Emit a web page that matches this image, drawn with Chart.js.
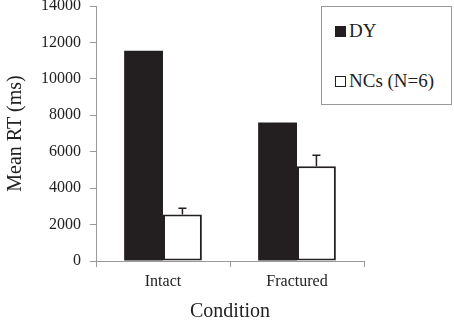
<!DOCTYPE html>
<html>
<head>
<meta charset="utf-8">
<script src="https://cdn.jsdelivr.net/npm/chart.js@4/dist/chart.umd.min.js"></script>
<style>
  body { margin: 0; background: #fff; }
  #wrap { position: relative; width: 454px; height: 322px; }
  #legenda {
    position: absolute; left: 321px; top: 6px; width: 131px; height: 99px;
    border: 1px solid #999; background: #fff; box-sizing: border-box;
    font-family: "Liberation Serif", serif; font-size: 19px; color: #222;
  }
  .item { position: absolute; left: 13px; display: flex; align-items: center; }
  .caja { width: 11px; height: 11px; margin-right: 3px; box-sizing: border-box; border: 1px solid #231f20; }
</style>
</head>
<body>
<div id="wrap">
  <canvas id="grafico" width="454" height="322"></canvas>
  <div id="legenda"></div>
</div>
<script>
const condiciones = ["Intact", "Fractured"];
const series = ["DY", "NCs (N=6)"];
const valoresDY = [11550, 7600];
const valoresNCs = [2550, 5200];
const erroresNCs = [350, 600];
const ticksY = [0, 2000, 4000, 6000, 8000, 10000, 12000, 14000];
const coloresSerie = ["#231f20", "#ffffff"];

const fuente = "'Liberation Serif', 'Times New Roman', serif";

// barras de error solo hacia arriba
const barrasError = {
    id: "barrasError",
    afterDatasetsDraw(chart) {
        const ctx = chart.ctx;
        const meta = chart.getDatasetMeta(1);
        const y = chart.scales.y;
        ctx.save();
        ctx.strokeStyle = "#231f20";
        ctx.lineWidth = 1.5;
        meta.data.forEach((bar, i) => {
            const top = y.getPixelForValue(valoresNCs[i] + erroresNCs[i]);
            ctx.beginPath();
            ctx.moveTo(bar.x, bar.y);
            ctx.lineTo(bar.x, top);
            ctx.moveTo(bar.x - 4, top);
            ctx.lineTo(bar.x + 4, top);
            ctx.stroke();
        });
        ctx.restore();
    }
};

document.addEventListener("DOMContentLoaded", () => {
    const leyenda = document.getElementById("legenda");
    series.forEach((nombre, i) => {
        const item = document.createElement("div");
        item.className = "item";
        item.style.top = (i === 0 ? 13 : 63) + "px";
        item.innerHTML = '<span class="caja" style="background:' + coloresSerie[i] + '"></span>' + nombre;
        leyenda.appendChild(item);
    });

    Chart.defaults.font.family = fuente;
    Chart.defaults.color = "#222";

    const ctx = document.getElementById("grafico");
    new Chart(ctx, {
        type: "bar",
        data: {
            labels: condiciones,
            datasets: [
                {
                    label: series[0],
                    data: valoresDY,
                    backgroundColor: coloresSerie[0],
                    borderWidth: 0
                },
                {
                    label: series[1],
                    data: valoresNCs,
                    backgroundColor: coloresSerie[1],
                    borderColor: "#231f20",
                    borderWidth: 2,
                    borderSkipped: false
                }
            ]
        },
        options: {
            responsive: false,
            animation: false,
            layout: { padding: { top: 6, right: 90, left: 0, bottom: 0 } },
            datasets: { bar: { categoryPercentage: 0.58, barPercentage: 1 } },
            plugins: {
                legend: { display: false },
                tooltip: { enabled: false }
            },
            scales: {
                x: {
                    grid: { display: true, drawOnChartArea: false, drawTicks: true, tickLength: 6, color: "#999", offset: true },
                    border: { color: "#999" },
                    ticks: { font: { family: fuente, size: 16, lineHeight: 1 }, padding: 7 },
                    title: { display: true, text: "Condition", font: { family: fuente, size: 20, lineHeight: 1 }, padding: { top: 5, bottom: 0 } }
                },
                y: {
                    min: 0,
                    max: 14000,
                    afterBuildTicks: (axis) => { axis.ticks = ticksY.map(v => ({ value: v })); },
                    afterFit: (axis) => { axis.paddingTop = 0; },
                    grid: { display: true, drawOnChartArea: false, drawTicks: true, tickLength: 6, color: "#999" },
                    border: { color: "#999" },
                    ticks: { font: { family: fuente, size: 16 }, padding: 9, callback: (v) => String(v) },
                    title: { display: true, text: "Mean RT (ms)", font: { family: fuente, size: 20 }, padding: { bottom: 4 } }
                }
            }
        },
        plugins: [barrasError]
    });
});
</script>
</body>
</html>
